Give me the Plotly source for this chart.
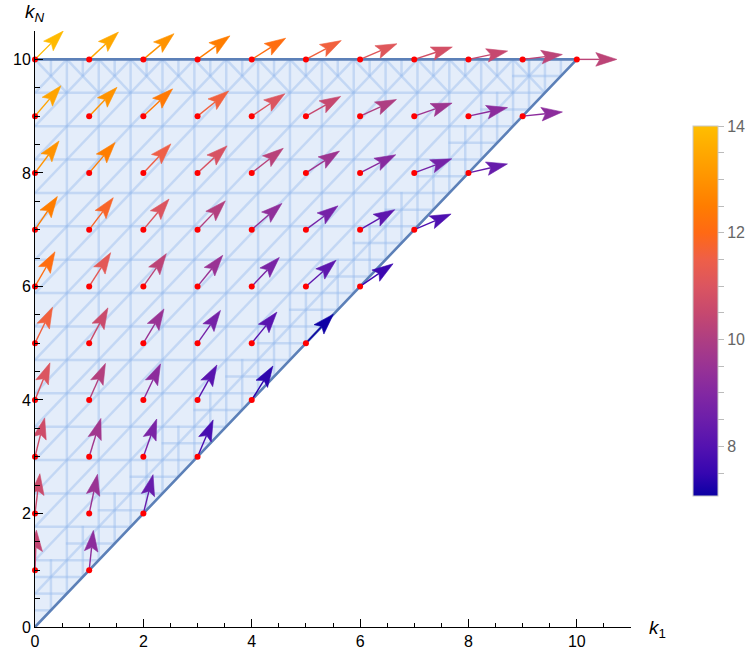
import math
import plotly.graph_objects as go
from plotly.colors import sample_colorscale

# ---------------- data ----------------
# rows indexed by kN (1..10); entries ordered by k1 = 0..kN
kN_values = list(range(1, 11))
angle_rows = {  # arrow direction, degrees above the +k1 direction
    1: [88, 84],
    2: [83, 78, 76],
    3: [76, 73, 70.5, 67],
    4: [68, 66, 64.5, 61, 58],
    5: [64, 62, 59, 55, 51, 46.6],
    6: [60, 57.5, 55, 51, 46.4, 41, 34.5],
    7: [56, 53, 50, 46, 41, 36.5, 30, 23],
    8: [53, 49.5, 46.5, 42.5, 38, 33, 27, 20.6, 13],
    9: [49.5, 46, 43, 39, 34, 29.6, 24.6, 19, 12.3, 6],
    10: [45, 43, 40, 36, 32, 28, 23, 18, 12, 7, 0],
}
magnitude_rows = {  # vector magnitude (colour)
    1: [10.4, 9.2],
    2: [10.6, 9.5, 8.4],
    3: [10.7, 9.7, 8.8, 7.8],
    4: [11.0, 10.1, 9.2, 8.1, 7.4],
    5: [11.6, 10.6, 9.5, 8.7, 8.1, 7.1],
    6: [12.1, 11.2, 10.3, 9.5, 8.8, 8.2, 7.6],
    7: [12.5, 11.8, 11.0, 10.1, 9.3, 8.7, 8.2, 7.9],
    8: [13.0, 12.5, 11.5, 10.9, 10.2, 9.6, 9.1, 8.7, 8.4],
    9: [13.4, 13.0, 12.4, 11.6, 11.0, 10.5, 10.0, 9.6, 9.2, 9.2],
    10: [13.9, 13.5, 13.0, 12.5, 12.1, 11.6, 11.1, 10.8, 10.5, 10.3, 10.3],
}
region_corners_k1 = [0, 10, 0]
region_corners_kN = [0, 10, 10]
x_ticks = [0, 2, 4, 6, 8, 10]
y_ticks = [0, 2, 4, 6, 8, 10]
cbar_min, cbar_max = 7.07, 14.0

# ---------------- style ----------------
W, H = 752, 656
ML, MR, MT, MB = 35, 121, 31, 29
XR = [0, 11]
YR = [0, 10.5]
SX = (W - ML - MR) / (XR[1] - XR[0])   # px per k1 unit
SY = (H - MT - MB) / (YR[1] - YR[0])   # px per kN unit
FONT = "Liberation Sans, Arial, sans-serif"

stops = [
    (7.07, "#0c00a4"), (7.5, "#3606b0"), (8.0, "#5412b0"), (8.5, "#6c1eaa"),
    (9.0, "#8328a2"), (9.5, "#993394"), (10.0, "#ae3e82"), (10.5, "#c6486f"),
    (11.0, "#db5560"), (11.5, "#ee5f48"), (12.0, "#ff6914"), (12.5, "#ff7d00"),
    (13.0, "#ff9300"), (13.5, "#ffa800"), (14.0, "#ffbe00"),
]
colorscale = [[(v - cbar_min) / (cbar_max - cbar_min), c] for v, c in stops]


def color_of(v):
    t = min(max((v - cbar_min) / (cbar_max - cbar_min), 0), 1)
    return sample_colorscale(colorscale, [t])[0]


fig = go.Figure()

# region fill
fig.add_trace(go.Scatter(
    x=region_corners_k1 + [region_corners_k1[0]],
    y=region_corners_kN + [region_corners_kN[0]],
    mode="lines", fill="toself", fillcolor="rgb(228,237,250)",
    line=dict(width=0), hoverinfo="skip"))

# mesh of the region
s = 10 / 17
mx, my = [], []


def seg(x0, y0, x1, y1):
    mx.extend([x0, x1, None])
    my.extend([y0, y1, None])


for k in range(1, 17):
    v = k * s
    seg(0, v, v, v)            # horizontal
    seg(v, v, v, 10)           # vertical
    seg(0, v, 10 - v, 10)      # diagonal /
# refinement near the slanted edge (half-spacing lines)
band = 0.9
for k in range(0, 17):
    v = (k + 0.5) * s
    seg(max(0, v - band), v, v, v)
    seg(v, v, v, min(10, v + band))
# top strip: crossing diagonals and short verticals
for k in range(0, 17):
    a = k * s
    if a + 2 * s <= 10:
        seg(a, 10, a + s, 10 - s)
    if a + s / 2 <= 10 - s / 2:
        seg(a + s / 2, 10, a + s / 2, 10 - s / 2)
fig.add_trace(go.Scatter(x=mx, y=my, mode="lines",
                         line=dict(color="rgba(150,185,236,0.42)", width=2.5),
                         hoverinfo="skip"))

# region border (diagonal and top edge)
fig.add_trace(go.Scatter(x=[0, 10, 0], y=[0, 10, 10], mode="lines",
                         line=dict(color="#5c80b8", width=2.6), hoverinfo="skip"))

# arrows
L, HL, HW, NOTCH = 40.0, 21.0, 6.8, 4.0
dot_x, dot_y = [], []
for kN in kN_values:
    for k1, (ang, mag) in enumerate(zip(angle_rows[kN], magnitude_rows[kN])):
        a = math.radians(ang)
        ux, uy = math.cos(a) / SX, math.sin(a) / SY       # along, data per px
        px_, py_ = -math.sin(a) / SX, math.cos(a) / SY    # perpendicular
        tip = (k1 + L * ux, kN + L * uy)
        base = (k1 + (L - HL) * ux, kN + (L - HL) * uy)
        notch = (k1 + (L - HL + NOTCH) * ux, kN + (L - HL + NOTCH) * uy)
        c1 = (base[0] + HW * px_, base[1] + HW * py_)
        c2 = (base[0] - HW * px_, base[1] - HW * py_)
        col = color_of(mag)
        fig.add_trace(go.Scatter(x=[k1, notch[0]], y=[kN, notch[1]], mode="lines",
                                 line=dict(color=col, width=1.4), hoverinfo="skip"))
        fig.add_trace(go.Scatter(x=[tip[0], c1[0], notch[0], c2[0], tip[0]],
                                 y=[tip[1], c1[1], notch[1], c2[1], tip[1]],
                                 mode="lines", fill="toself", fillcolor=col,
                                 line=dict(color=col, width=0.6), hoverinfo="skip"))
        dot_x.append(k1)
        dot_y.append(kN)

fig.add_trace(go.Scatter(x=dot_x, y=dot_y, mode="markers", cliponaxis=False,
                         marker=dict(color="#ff0000", size=6), hoverinfo="skip"))

# colour bar
fig.add_trace(go.Scatter(
    x=[5], y=[-5], mode="markers", hoverinfo="skip",
    marker=dict(size=1, color=[cbar_min], colorscale=colorscale, cmin=cbar_min,
                cmax=cbar_max, showscale=True,
                colorbar=dict(
                    x=(693 - ML) / (W - ML - MR), xanchor="left", xpad=0,
                    y=1 - (311 - MT) / (H - MT - MB), yanchor="middle", ypad=0,
                    len=370, lenmode="pixels", thickness=25, thicknessmode="pixels",
                    outlinewidth=1, outlinecolor="#c8c8c8",
                    tickmode="linear", tick0=8, dtick=0.5, ticklabelstep=4,
                    ticks="outside", ticklen=6, tickcolor="#bbbbbb",
                    tickfont=dict(size=16, color="#666666", family=FONT)))))

axis_common = dict(showline=True, linecolor="black", linewidth=1, mirror=False,
                   ticks="inside", ticklen=8, tickcolor="black", tickwidth=1,
                   showgrid=False, zeroline=False,
                   tickfont=dict(size=16, color="black", family=FONT),
                   minor=dict(dtick=0.5, ticks="inside", ticklen=4.5,
                              tickcolor="black", showgrid=False))
fig.update_xaxes(range=XR, tickvals=x_ticks, **axis_common)
fig.update_yaxes(range=YR, tickvals=y_ticks, **axis_common)

fig.add_annotation(x=0, y=1.0, xref="paper", yref="paper", xanchor="center",
                   yanchor="bottom", yshift=4, showarrow=False,
                   text="<i>k</i><sub><i>N</i></sub>",
                   font=dict(size=19, color="black", family=FONT))
fig.add_annotation(x=1.0, y=0, xref="paper", yref="paper", xanchor="left",
                   yanchor="middle", xshift=16, yshift=-2, showarrow=False,
                   text="<i>k</i><sub>1</sub>",
                   font=dict(size=19, color="black", family=FONT))

fig.update_layout(width=W, height=H, autosize=False, showlegend=False,
                  margin=dict(l=ML, r=MR, t=MT, b=MB, pad=0, autoexpand=False),
                  plot_bgcolor="white", paper_bgcolor="white")

fig.write_html("out.html", config={"displayModeBar": False},
               post_script="document.body.style.margin='0';")
